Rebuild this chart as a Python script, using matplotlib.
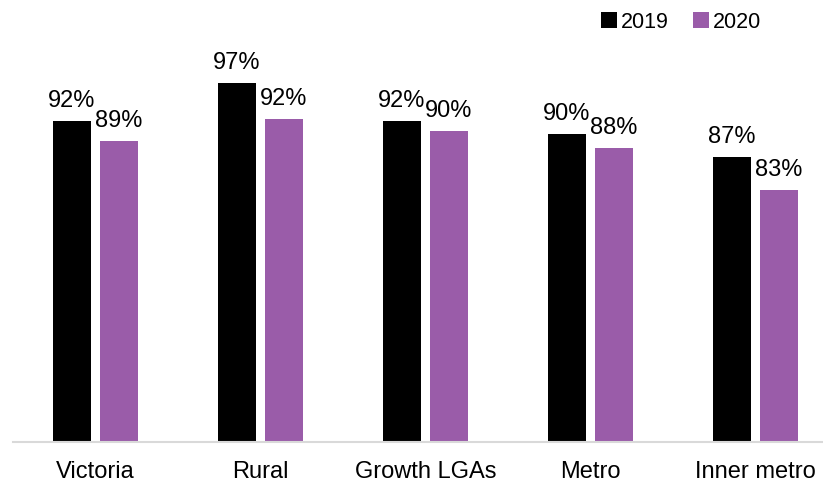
import matplotlib
matplotlib.use("Agg")
import matplotlib.pyplot as plt
import numpy as np
from matplotlib.patches import Patch

categories = ["Victoria", "Rural", "Growth LGAs", "Metro", "Inner metro"]
series_names = ["2019", "2020"]
values_2019 = [92.0, 97.0, 92.0, 90.3, 87.3]
values_2020 = [89.4, 92.3, 90.7, 88.5, 83.0]
labels_2019 = ["92%", "97%", "92%", "90%", "87%"]
labels_2020 = ["89%", "92%", "90%", "88%", "83%"]

plt.rcParams['font.family'] = ['Liberation Sans', 'DejaVu Sans']

BLACK = "#000000"
PURPLE = "#9A5CA9"

fig = plt.figure(figsize=(8.23, 4.85), dpi=100)
ax = fig.add_axes([13/823, 42/485, 825/823, 382/485])

x = np.arange(len(categories))
w = 0.236
off = 0.1424
b1 = ax.bar(x - off, values_2019, width=w, color=BLACK, label=series_names[0])
b2 = ax.bar(x + off, values_2020, width=w, color=PURPLE, label=series_names[1])

for bars, labs in ((b1, labels_2019), (b2, labels_2020)):
    for r, lab in zip(bars, labs):
        ax.annotate(lab, (r.get_x() + r.get_width() / 2, r.get_height()),
                    xytext=(0, 11), textcoords='offset points',
                    ha='center', va='baseline', fontsize=17, color='black')

ax.set_xlim(-0.5, 4.5)
ax.set_ylim(50, 100)
ax.set_xticks(x)
ax.set_xticklabels(categories, fontsize=17)
ax.tick_params(axis='x', length=0, pad=13)
ax.set_yticks([])
for s in ('top', 'right', 'left'):
    ax.spines[s].set_visible(False)
ax.spines['bottom'].set_color('#D9D9D9')
ax.spines['bottom'].set_linewidth(1.5)

handles = [Patch(facecolor=BLACK), Patch(facecolor=PURPLE)]
fig.legend(handles, series_names, loc='center', bbox_to_anchor=(681/823, 1 - 23/485),
           ncol=2, frameon=False, fontsize=15.5, handlelength=0.75, handleheight=0.75,
           handletextpad=0.2, columnspacing=1.1, borderpad=0)

fig.savefig("out.png", dpi=100)
